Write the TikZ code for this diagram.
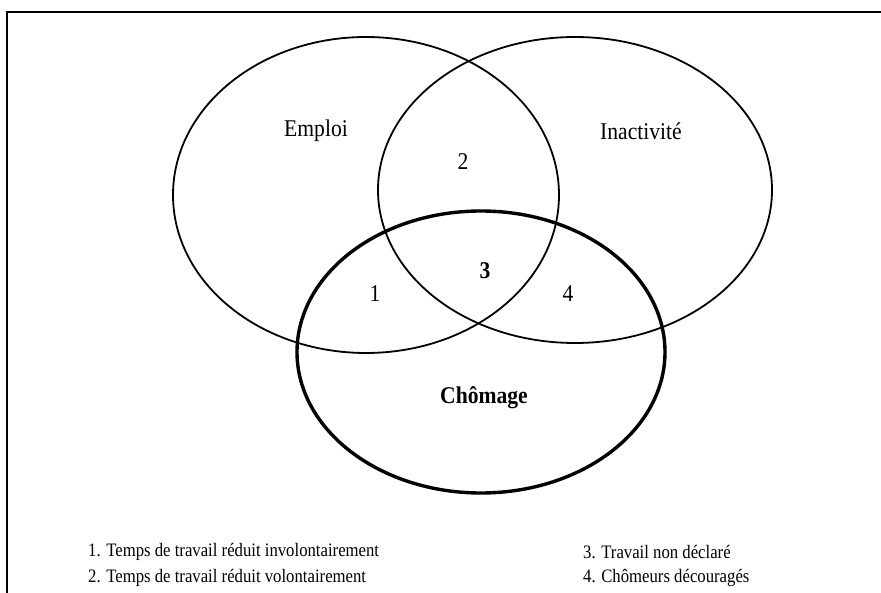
\documentclass[tikz,border=0pt]{standalone}
\usepackage{fontspec}
\usepackage{graphicx}
\setmainfont{Liberation Serif}
\usetikzlibrary{shapes.geometric}

\newcommand{\sqz}[1]{\scalebox{0.9}[1]{#1}}

\begin{document}
\begin{tikzpicture}[x=1pt, y=-1pt,
    every node/.style={font=\fontsize{24}{28}\selectfont},
    legende/.style={anchor=west, inner sep=0pt,
                    font=\fontsize{19}{23}\selectfont}]
    \useasboundingbox (0,0) rectangle (881,593);

    % cadre
    \draw[line width=1.8pt] (7,593) -- (7,12) -- (881,12);

    \node[draw, ellipse, line width=1.8pt, inner sep=0pt,
          minimum width=386pt, minimum height=316pt,
          ] (Emploi) at (366,195) {};

    \node[draw, ellipse, line width=1.8pt, inner sep=0pt,
          minimum width=394pt, minimum height=306pt,
          ] (Inact) at (575,190) {};

    \node[draw, ellipse, line width=3.4pt, inner sep=0pt,
          minimum width=368pt, minimum height=282pt,
          ] (Chom) at (481,352) {};

    \node (lEmploi) at (316,131) {\sqz{Emploi}};
    \node (lInact) at (641,131) {\sqz{Inactivité}};
    \node (lChom) at (484,398) {\sqz{\textbf{Chômage}}};

    \node (z1) at (375,294) {\sqz{1}};
    \node (z2) at (463,162) {\sqz{2}};
    \node (z3) at (485,271) {\sqz{\textbf{3}}};
    \node (z4) at (568,294) {\sqz{4}};

    \node[legende] (leg1) at (88,552)
        {\scalebox{0.88}[1]{1. Temps de travail réduit involontairement}};
    \node[legende] (leg2) at (88,578)
        {\scalebox{0.88}[1]{2. Temps de travail réduit volontairement}};
    \node[legende] (leg3) at (583,552)
        {\scalebox{0.88}[1]{3. Travail non déclaré}};
    \node[legende] (leg4) at (583,578)
        {\scalebox{0.88}[1]{4. Chômeurs découragés}};
  \end{tikzpicture}
\end{document}
